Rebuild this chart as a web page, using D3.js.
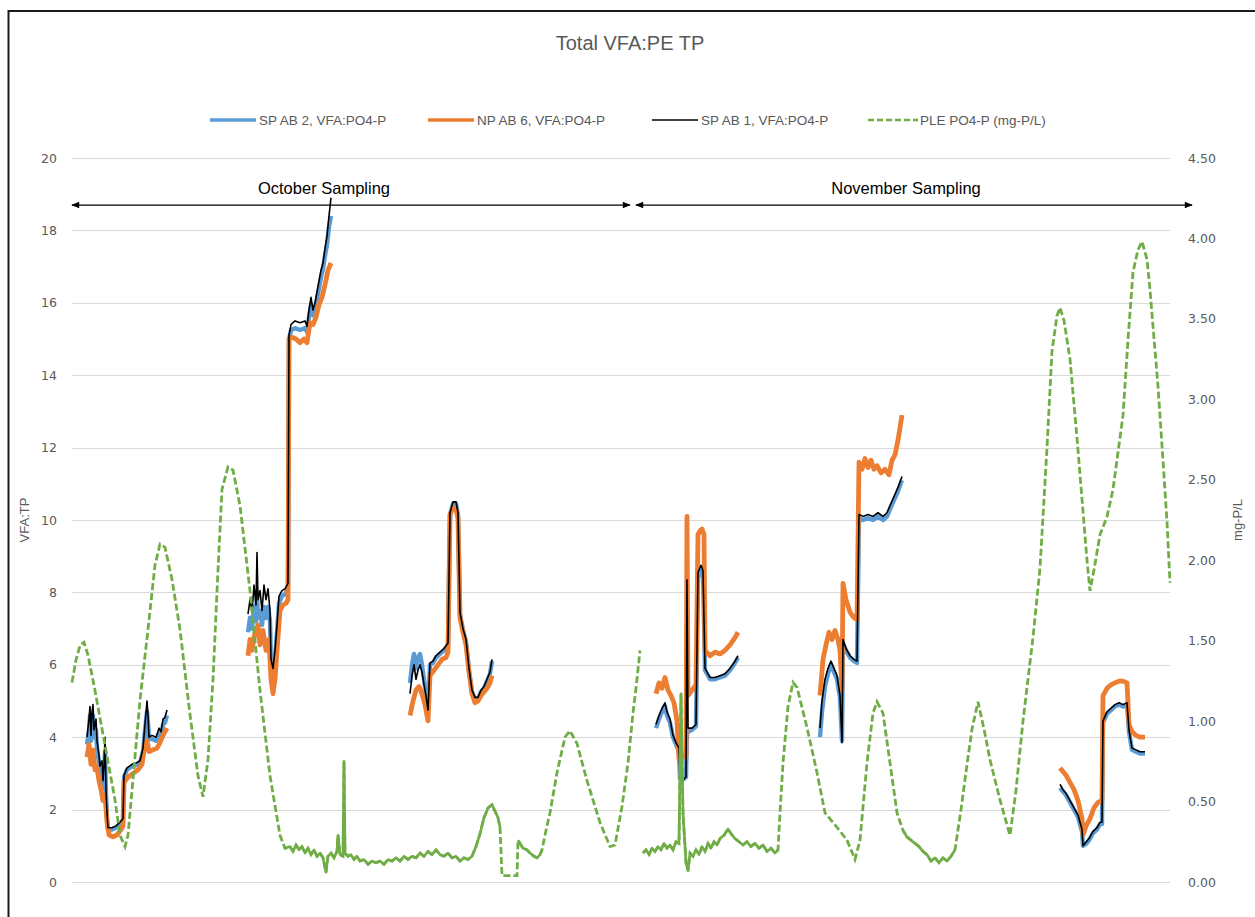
<!DOCTYPE html>
<html><head><meta charset="utf-8">
<script src="https://cdn.jsdelivr.net/npm/d3@7"></script>
<style>body{margin:0;background:#fff}svg{display:block}</style>
</head><body><svg id="c" width="1255" height="917"></svg>
<script>
// ---------- DATA ----------
const chartTitle = "Total VFA:PE TP";
const seriesNames = ["SP AB 2, VFA:PO4-P", "NP AB 6, VFA:PO4-P", "SP AB 1, VFA:PO4-P", "PLE PO4-P (mg-P/L)"];
const leftTitle = "VFA:TP";
const rightTitle = "mg-P/L";
const leftTicks = [0, 2, 4, 6, 8, 10, 12, 14, 16, 18, 20];
const rightTicks = [0, 0.5, 1, 1.5, 2, 2.5, 3, 3.5, 4, 4.5];
const periodLabels = ["October Sampling", "November Sampling"];
const periodStart = [0, 564];
const periodEnd = [558, 1120];
const periodLevel = 18.7;
const sampleDomain = [0, 1098];

// sample index, VFA:PO4-P  (null breaks the line)
const sp2 = [
 [15,3.8],[17,4.2],[18,4.6],[19,3.9],[20,4.4],[21,4.6],[22,4.0],[24,4.2],[25,3.7],[27,3.3],[28,3.0],[30,3.1],[31,2.6],[32,2.9],[33,3.6],[34,2.4],[35,1.8],[36,1.45],[40,1.45],[44,1.5],[48,1.6],[51,1.7],[52,2.9],[55,3.1],[60,3.2],[65,3.25],[68,3.3],[71,3.6],[73,4.2],[75,4.7],[76,4.4],[77,3.95],[80,3.95],[84,3.9],[87,4.1],[89,4.05],[91,4.35],[93,4.4],[95,4.6],[96,null],
 [176,6.9],[178,7.3],[180,7.0],[182,7.6],[184,7.2],[185,8.0],[186,7.3],[188,7.5],[190,7.1],[192,7.6],[194,7.3],[196,7.6],[198,7.2],[199,6.0],[201,5.7],[203,6.2],[205,6.9],[207,7.7],[210,7.9],[213,7.95],[216,8.1],[217,15.0],[219,15.25],[223,15.3],[228,15.25],[233,15.3],[235,15.2],[237,15.6],[239,15.95],[241,15.65],[243,15.8],[245,16.1],[247,16.4],[249,16.7],[251,16.95],[253,17.3],[255,17.6],[257,18.1],[259,18.4],[260,null],
 [338,5.5],[340,6.0],[342,6.3],[344,5.9],[346,6.2],[348,6.3],[350,6.0],[352,5.6],[354,5.2],[356,4.8],[358,6.0],[361,6.05],[364,6.2],[368,6.3],[372,6.4],[376,6.55],[378,10.15],[381,10.45],[384,10.45],[386,10.15],[388,7.4],[391,6.95],[394,6.65],[397,5.85],[400,5.25],[403,5.05],[406,5.05],[409,5.25],[412,5.35],[415,5.55],[418,5.75],[420,6.1],[421,null],
 [584,4.25],[587,4.5],[590,4.7],[593,4.85],[595,4.6],[598,4.4],[601,4.0],[604,3.8],[607,3.6],[608,2.85],[612,2.85],[614,2.9],[615,4.1],[616,4.15],[620,4.2],[624,4.3],[626,8.4],[629,8.6],[631,8.5],[633,5.85],[638,5.6],[643,5.6],[648,5.65],[653,5.7],[658,5.85],[663,6.05],[666,6.2],[667,null],
 [748,4.0],[750,4.7],[753,5.4],[756,5.75],[759,6.0],[762,5.8],[765,5.6],[768,5.1],[770,3.9],[771,6.6],[774,6.4],[778,6.2],[782,6.1],[785,6.05],[787,10.05],[791,10.0],[796,10.05],[801,10.0],[806,10.1],[811,10.0],[815,10.1],[818,10.3],[822,10.55],[826,10.8],[830,11.1],[831,null],
 [988,2.6],[991,2.5],[994,2.4],[998,2.2],[1002,2.0],[1006,1.8],[1010,1.4],[1011,1.0],[1014,1.05],[1017,1.15],[1021,1.35],[1025,1.45],[1028,1.6],[1030,1.6],[1031,4.4],[1035,4.65],[1039,4.75],[1043,4.85],[1047,4.9],[1051,4.85],[1055,4.9],[1057,4.15],[1060,3.65],[1064,3.6],[1068,3.55],[1073,3.55]
];
const np6 = [
 [15,3.45],[17,3.8],[19,3.25],[21,3.65],[23,3.1],[25,3.15],[27,2.8],[29,2.55],[31,2.25],[33,2.4],[35,1.65],[37,1.3],[41,1.25],[45,1.3],[49,1.45],[51,1.55],[52,2.75],[56,2.9],[61,3.0],[66,3.1],[70,3.25],[73,3.8],[75,3.9],[77,3.6],[81,3.65],[85,3.7],[88,3.85],[91,4.05],[95,4.25],[96,null],
 [176,6.25],[178,6.7],[180,6.4],[183,6.9],[186,7.1],[188,6.55],[191,6.95],[194,6.4],[197,6.7],[199,5.6],[201,5.2],[203,5.6],[205,6.4],[208,7.5],[211,7.65],[214,7.7],[216,7.8],[217,15.0],[220,15.05],[224,15.0],[228,14.9],[232,15.0],[235,14.9],[238,15.45],[241,15.4],[244,15.6],[247,15.95],[250,16.15],[253,16.5],[256,16.9],[259,17.1],[260,null],
 [338,4.6],[341,5.0],[344,5.3],[347,5.4],[350,5.2],[353,4.9],[356,4.45],[358,5.7],[362,5.85],[366,6.0],[370,6.15],[374,6.2],[376,6.35],[378,10.15],[381,10.35],[384,10.3],[386,10.05],[388,7.3],[391,6.9],[394,6.55],[397,5.8],[400,5.2],[403,4.95],[406,5.0],[409,5.15],[412,5.25],[415,5.35],[418,5.5],[420,5.7],[421,null],
 [584,5.2],[587,5.5],[590,5.35],[593,5.65],[596,5.3],[599,5.15],[602,4.95],[605,4.45],[607,3.4],[611,3.5],[614,3.45],[615,10.1],[616,5.15],[620,5.3],[624,5.45],[626,9.6],[628,9.7],[630,9.75],[632,9.6],[633,6.4],[638,6.25],[643,6.35],[648,6.3],[653,6.4],[658,6.55],[663,6.75],[666,6.9],[667,null],
 [748,5.15],[751,6.15],[754,6.55],[757,6.9],[760,6.7],[763,6.95],[766,6.7],[768,6.4],[770,5.3],[771,8.25],[774,7.8],[778,7.45],[782,7.3],[785,7.25],[787,11.6],[790,11.4],[793,11.7],[796,11.45],[799,11.65],[802,11.4],[805,11.5],[809,11.3],[813,11.4],[817,11.25],[820,11.65],[823,11.8],[826,12.2],[828,12.55],[830,12.9],[831,null],
 [988,3.15],[991,3.05],[994,2.95],[998,2.75],[1002,2.55],[1006,2.25],[1010,1.75],[1011,1.3],[1014,1.55],[1018,1.75],[1022,2.05],[1026,2.2],[1030,2.25],[1031,5.15],[1035,5.35],[1039,5.45],[1043,5.5],[1047,5.55],[1051,5.55],[1055,5.5],[1057,4.35],[1060,4.15],[1064,4.05],[1068,4.0],[1073,4.0]
];
const sp1 = [
 [15,4.0],[17,4.5],[18,4.85],[19,4.05],[20,4.7],[21,4.9],[22,4.2],[24,4.5],[25,3.9],[27,3.5],[28,3.2],[30,3.35],[31,2.8],[32,3.2],[33,4.0],[34,2.55],[35,1.9],[36,1.5],[40,1.5],[44,1.55],[48,1.65],[51,1.75],[52,2.95],[55,3.15],[60,3.25],[65,3.3],[68,3.35],[71,3.7],[73,4.35],[75,5.0],[76,4.6],[77,4.0],[80,4.05],[84,4.0],[87,4.25],[89,4.15],[91,4.5],[93,4.55],[95,4.75],[96,null],
 [176,7.4],[178,7.8],[180,7.45],[182,8.2],[184,7.65],[185,9.1],[186,7.8],[188,8.05],[190,7.5],[192,8.2],[194,7.8],[196,8.1],[198,7.5],[199,6.15],[201,5.9],[203,6.4],[205,7.1],[207,7.9],[210,8.05],[213,8.1],[216,8.25],[217,15.1],[219,15.4],[223,15.5],[228,15.45],[233,15.5],[235,15.35],[237,15.8],[239,16.15],[241,15.8],[243,16.0],[245,16.3],[247,16.6],[249,16.9],[251,17.1],[253,17.5],[255,17.85],[257,18.4],[259,18.9],[260,null],
 [338,5.2],[340,5.7],[342,6.0],[344,5.6],[346,5.85],[348,6.0],[350,5.8],[352,5.45],[354,5.15],[356,4.75],[358,6.05],[361,6.1],[364,6.25],[368,6.35],[372,6.45],[376,6.6],[378,10.2],[381,10.5],[384,10.5],[386,10.2],[388,7.45],[391,7.0],[394,6.7],[397,5.9],[400,5.3],[403,5.1],[406,5.1],[409,5.3],[412,5.4],[415,5.6],[418,5.8],[420,6.15],[421,null],
 [584,4.35],[587,4.6],[590,4.8],[593,4.95],[595,4.7],[598,4.5],[601,4.05],[604,3.85],[607,3.7],[608,2.85],[612,2.85],[614,2.9],[615,8.35],[616,4.25],[620,4.25],[624,4.35],[626,8.55],[629,8.75],[631,8.6],[633,5.9],[638,5.65],[643,5.65],[648,5.7],[653,5.75],[658,5.9],[663,6.1],[666,6.25],[667,null],
 [748,4.25],[750,5.0],[753,5.6],[756,5.9],[759,6.1],[762,5.9],[765,5.7],[768,5.15],[770,3.85],[771,6.7],[774,6.45],[778,6.25],[782,6.15],[785,6.1],[787,10.15],[791,10.1],[796,10.15],[801,10.1],[806,10.2],[811,10.1],[815,10.2],[818,10.4],[822,10.65],[826,10.9],[830,11.2],[831,null],
 [988,2.7],[991,2.55],[994,2.45],[998,2.25],[1002,2.05],[1006,1.85],[1010,1.45],[1011,1.0],[1014,1.1],[1017,1.2],[1021,1.4],[1025,1.5],[1028,1.65],[1030,1.65],[1031,4.45],[1035,4.7],[1039,4.8],[1043,4.9],[1047,4.95],[1051,4.9],[1055,4.95],[1057,4.2],[1060,3.7],[1064,3.65],[1068,3.6],[1073,3.6]
];
// sample index, PLE PO4-P mg-P/L (secondary axis)
const ple = [
 [0,1.24],[4,1.38],[8,1.47],[12,1.49],[16,1.41],[23,1.19],[33,0.85],[43,0.51],[48,0.29],[53,0.22],[56,0.29],[60,0.57],[68,1.13],[76,1.57],[83,1.97],[88,2.10],[93,2.08],[100,1.88],[108,1.57],[118,1.04],[126,0.66],[131,0.53],[136,0.76],[141,1.26],[146,1.94],[150,2.44],[156,2.58],[161,2.56],[168,2.34],[178,1.81],[188,1.19],[198,0.66],[208,0.29],[213,0.21],
 [218,0.22],[221,0.19],[224,0.23],[227,0.20],[230,0.22],[233,0.18],[236,0.21],[239,0.17],[242,0.20],[245,0.16],[248,0.18],[251,0.15],[254,0.06],[256,0.16],[259,0.18],[262,0.15],[265,0.19],[266,0.29],[268,0.17],[271,0.16],[272,0.75],[273,0.18],[276,0.16],[279,0.17],[282,0.14],[285,0.16],[288,0.13],[292,0.14],[296,0.11],[300,0.13],[304,0.12],[308,0.13],[312,0.11],[316,0.14],[320,0.13],[324,0.15],[328,0.13],[332,0.16],[336,0.14],[340,0.16],[344,0.15],[348,0.18],[352,0.16],[356,0.19],[360,0.17],[364,0.20],[368,0.17],[372,0.16],[376,0.18],[380,0.15],[384,0.16],[388,0.13],[392,0.15],[396,0.14],[400,0.16],[404,0.22],[408,0.30],[412,0.40],[416,0.46],[420,0.48],[423,0.44],[426,0.40],[428,0.34],[430,0.04],[445,0.04],[446,0.26],[448,0.24],[451,0.21],[455,0.20],[458,0.18],[462,0.16],[465,0.15],[468,0.17],[470,0.20],[474,0.32],[478,0.43],[485,0.68],[493,0.90],[498,0.94],[505,0.86],[515,0.63],[528,0.37],[538,0.22],[543,0.23],[550,0.47],[556,0.74],[561,1.05],[565,1.26],[568,1.44],[570,null],
 [571,0.18],[574,0.20],[577,0.17],[580,0.21],[583,0.19],[586,0.22],[589,0.20],[592,0.24],[595,0.21],[598,0.23],[601,0.20],[604,0.25],[607,0.24],[609,1.17],[611,0.43],[614,0.12],[616,0.07],[618,0.18],[621,0.16],[624,0.20],[627,0.17],[630,0.22],[633,0.19],[636,0.24],[639,0.21],[642,0.25],[645,0.23],[648,0.27],[652,0.29],[656,0.33],[659,0.30],[663,0.27],[667,0.25],[671,0.23],[675,0.25],[679,0.22],[683,0.24],[687,0.21],[691,0.23],[695,0.19],[699,0.21],[703,0.18],[706,0.20],[708,0.43],[711,0.74],[716,1.09],[721,1.24],[725,1.21],[735,0.96],[745,0.68],[753,0.43],[765,0.34],[775,0.26],[783,0.14],[788,0.26],[795,0.74],[801,1.05],[805,1.12],[811,1.05],[818,0.74],[825,0.43],[831,0.32],[835,0.28],[839,0.26],[843,0.24],[847,0.22],[851,0.19],[855,0.17],[859,0.13],[863,0.15],[867,0.12],[871,0.15],[875,0.13],[879,0.16],[883,0.20],[889,0.45],[895,0.73],[900,0.95],[906,1.12],[912,0.95],[918,0.76],[928,0.51],[938,0.29],[944,0.57],[951,1.00],[961,1.52],[968,1.95],[975,2.70],[980,3.30],[985,3.52],[988,3.57],[992,3.49],[998,3.25],[1005,2.76],[1010,2.38],[1015,2.00],[1018,1.81],[1022,1.94],[1028,2.16],[1035,2.27],[1041,2.44],[1051,2.90],[1056,3.37],[1061,3.79],[1066,3.93],[1070,3.98],[1075,3.87],[1078,3.68],[1086,3.08],[1091,2.62],[1095,2.24],[1098,1.86]
];
// spans of densely logged (noisy) PLE readings
const pleDenseSpans = [[213, 428], [446, 470], [571, 706], [831, 883]];

// ---------- DRAW ----------
const W = 1255, H = 917;
const colors = ["#5B9BD5", "#ED7D31", "#000000", "#70AD47"];
const svg = d3.select("#c");
const plot = {left: 72, right: 1170, top: 158, bottom: 882};
const x = d3.scaleLinear().domain(sampleDomain).range([plot.left, plot.right]);
const yL = d3.scaleLinear().domain([0, 20]).range([plot.bottom, plot.top]);
const yR = d3.scaleLinear().domain([0, 4.5]).range([plot.bottom, plot.top]);
const sansUI = "'Liberation Sans', Arial, sans-serif";
const tickFont = "'DejaVu Sans', Verdana, sans-serif";
const grey = "#595959";

svg.append("rect").attr("width", W).attr("height", H).attr("fill", "#fff");
svg.append("rect").attr("x", 8.5).attr("y", 11).attr("width", W + 20).attr("height", H + 20)
  .attr("fill", "none").attr("stroke", "#1a1a1a").attr("stroke-width", 2);

// gridlines
svg.append("g").selectAll("line").data(leftTicks).join("line")
  .attr("x1", plot.left).attr("x2", plot.right)
  .attr("y1", d => Math.round(yL(d)) + 0.5).attr("y2", d => Math.round(yL(d)) + 0.5)
  .attr("stroke", "#d9d9d9").attr("stroke-width", 1);

// axes
const gl = svg.append("g").attr("transform", `translate(${plot.left},0)`)
  .call(d3.axisLeft(yL).tickValues(leftTicks).tickSize(0).tickPadding(15));
const gr = svg.append("g").attr("transform", `translate(${plot.right},0)`)
  .call(d3.axisRight(yR).tickValues(rightTicks).tickSize(0).tickPadding(18).tickFormat(d3.format(".2f")));
[gl, gr].forEach(g => {
  g.select(".domain").remove();
  g.selectAll("text").attr("fill", grey).style("font-family", tickFont).style("font-size", "12.5px");
});

// axis titles
svg.append("text").attr("transform", `translate(29,${(plot.top + plot.bottom) / 2}) rotate(-90)`)
  .attr("text-anchor", "middle").attr("fill", grey).style("font-family", sansUI).style("font-size", "13px").text(leftTitle);
svg.append("text").attr("transform", `translate(1242,${(plot.top + plot.bottom) / 2}) rotate(-90)`)
  .attr("text-anchor", "middle").attr("fill", grey).style("font-family", sansUI).style("font-size", "13px").text(rightTitle);

// title
svg.append("text").attr("x", 630).attr("y", 50).attr("text-anchor", "middle")
  .attr("fill", grey).style("font-family", sansUI).style("font-size", "20px").text(chartTitle);

// legend
const legendX = [210, 428, 652, 868];
const lg = svg.append("g");
seriesNames.forEach((name, i) => {
  const g = lg.append("g").attr("transform", `translate(${legendX[i]},120)`);
  g.append("line").attr("x1", 0).attr("x2", i === 3 ? 50 : 46).attr("y1", 0).attr("y2", 0)
    .attr("stroke", colors[i]).attr("stroke-width", i === 2 ? 1.5 : (i === 3 ? 2.4 : 3.5))
    .attr("stroke-dasharray", i === 3 ? "6,3" : null);
  g.append("text").attr("x", i === 3 ? 52 : 49).attr("y", 4.5).attr("fill", grey)
    .style("font-family", sansUI).style("font-size", "13.5px").text(name);
});

// period annotations
svg.append("defs").html(
  '<marker id="ah" viewBox="0 0 10 10" refX="9" refY="5" markerWidth="10" markerHeight="8" orient="auto-start-reverse" markerUnits="userSpaceOnUse"><path d="M0,1 L10,5 L0,9 Z" fill="#000"/></marker>');
periodLabels.forEach((lab, i) => {
  const x0 = x(periodStart[i]), x1 = x(periodEnd[i]), yy = yL(periodLevel);
  svg.append("line").attr("x1", x0).attr("x2", x1).attr("y1", yy).attr("y2", yy)
    .attr("stroke", "#000").attr("stroke-width", 1.3)
    .attr("marker-start", "url(#ah)").attr("marker-end", "url(#ah)");
  svg.append("text").attr("x", i === 0 ? 324 : 906).attr("y", yy - 11).attr("text-anchor", "middle")
    .attr("fill", "#000").style("font-family", sansUI).style("font-size", "16.5px").text(lab);
});

// series
const lineL = d3.line().defined(d => d[1] != null).x(d => x(d[0])).y(d => yL(d[1]));
const lineR = d3.line().defined(d => d[1] != null).x(d => x(d[0])).y(d => yR(d[1]));
const series = [sp2, np6, sp1];
const widths = [4.4, 4.8, 1.6];
series.forEach((s, i) => {
  svg.append("path").datum(s).attr("d", lineL).attr("fill", "none")
    .attr("stroke", colors[i]).attr("stroke-width", widths[i]).attr("stroke-linejoin", "round");
});
svg.append("path").datum(ple).attr("d", lineR).attr("fill", "none")
  .attr("stroke", colors[3]).attr("stroke-width", 2.8).attr("stroke-dasharray", "7,3");
pleDenseSpans.forEach(([a, b]) => {
  const seg = ple.filter(d => d[0] >= a && d[0] <= b && d[1] != null);
  svg.append("path").datum(seg).attr("d", lineR).attr("fill", "none")
    .attr("stroke", colors[3]).attr("stroke-width", 2.6).attr("stroke-linejoin", "round");
});
</script></body></html>
